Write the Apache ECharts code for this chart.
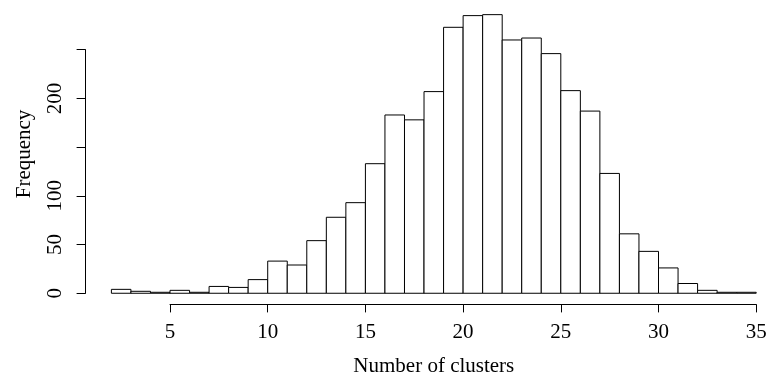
<!DOCTYPE html>
<html>
<head>
<meta charset="utf-8">
<title>Number of clusters</title>
<script src="https://cdn.jsdelivr.net/npm/echarts@6/dist/echarts.min.js"></script>
<style>
  html, body { margin: 0; padding: 0; background: #fff; }
  #chart { width: 766px; height: 378px; }
</style>
</head>
<body>
<div id="chart"></div>
<script>
// histogram bins (left edge, right edge) and counts
var binStarts = [2, 3, 4, 5, 6, 7, 8, 9, 10, 11, 12, 13, 14, 15, 16, 17, 18,
                 19, 20, 21, 22, 23, 24, 25, 26, 27, 28, 29, 30, 31, 32, 33, 34];
var binEnds = [3, 4, 5, 6, 7, 8, 9, 10, 11, 12, 13, 14, 15, 16, 17, 18, 19,
               20, 21, 22, 23, 24, 25, 26, 27, 28, 29, 30, 31, 32, 33, 34, 35];
var counts = [4, 2, 1, 3, 1, 7, 6, 14, 33, 29, 54, 78, 93, 133, 183, 178, 207,
              273, 285, 286, 260, 262, 246, 208, 187, 123, 61, 43, 26, 10, 3, 1, 1];

var xTicks = [5, 10, 15, 20, 25, 30, 35];
var yTicks = [0, 50, 100, 150, 200, 250];
// R leaves out a label when it would overlap its neighbour
var yLabelsShown = ['0', '50', '100', '', '200', ''];

var xTitle = 'Number of clusters';
var yTitle = 'Frequency';

// plot region in pixels (R style, axes sit outside of it)
var plotLeft = 85.6, plotRight = 782, plotTop = 3.5, plotBottom = 304.4;
var font = 'Liberation Serif';
var fontSize = 21;

// R pads the data range by 4% on each side
var xlo = binStarts[0], xhi = binEnds[binEnds.length - 1];
var ymax = Math.max.apply(null, counts);
var xlim = [xlo - 0.04 * (xhi - xlo), xhi + 0.04 * (xhi - xlo)];
var ylim = [-0.04 * ymax, ymax * 1.04];

function px(v) {
    return plotLeft + (v - xlim[0]) / (xlim[1] - xlim[0]) * (plotRight - plotLeft);
}
function py(v) {
    return plotBottom - (v - ylim[0]) / (ylim[1] - ylim[0]) * (plotBottom - plotTop);
}

var bars = [];
for (var i = 0; i < counts.length; i++) {
    bars.push([binStarts[i], binEnds[i], counts[i]]);
}

var xAxisLeft = px(xTicks[0]), xAxisRight = px(xTicks[xTicks.length - 1]);
var yAxisTop = py(yTicks[yTicks.length - 1]), yAxisBottom = py(yTicks[0]);

var chart = echarts.init(document.getElementById('chart'), null, {renderer: 'canvas'});

chart.setOption({
    animation: false,
    backgroundColor: '#fff',
    textStyle: { fontFamily: font },
    grid: [
        // plot region (runs a little past the right edge, as in the original)
        { left: plotLeft, width: plotRight - plotLeft, top: plotTop, height: plotBottom - plotTop,
          outerBoundsMode: 'none' },
        // bottom axis, only spanning its ticks
        { left: xAxisLeft, width: xAxisRight - xAxisLeft, top: plotBottom - 1, height: 1,
          outerBoundsMode: 'none' },
        // left axis, only spanning its ticks
        { left: plotLeft, width: 1, top: yAxisTop, height: yAxisBottom - yAxisTop,
          outerBoundsMode: 'none' }
    ],
    xAxis: [
        {
            gridIndex: 0, type: 'value', min: xlim[0], max: xlim[1],
            axisLine: { show: false }, axisTick: { show: false },
            axisLabel: { show: false }, splitLine: { show: false },
            name: xTitle, nameLocation: 'middle', nameGap: 52,
            nameTextStyle: { fontFamily: font, fontSize: fontSize, color: '#000' }
        },
        {
            gridIndex: 1, type: 'value', min: xTicks[0], max: xTicks[xTicks.length - 1],
            interval: 5, position: 'bottom',
            axisLine: { show: true, lineStyle: { color: '#000', width: 1 } },
            axisTick: { show: true, length: 8, lineStyle: { color: '#000' } },
            axisLabel: { show: true, margin: 18, fontFamily: font, fontSize: fontSize, color: '#000' },
            splitLine: { show: false }
        },
        {
            gridIndex: 2, type: 'value', show: false
        }
    ],
    yAxis: [
        {
            gridIndex: 0, type: 'value', min: ylim[0], max: ylim[1],
            axisLine: { show: false }, axisTick: { show: false },
            axisLabel: { show: false }, splitLine: { show: false },
            name: yTitle, nameLocation: 'middle', nameGap: 51, nameRotate: 90,
            nameTextStyle: { fontFamily: font, fontSize: fontSize, color: '#000' }
        },
        {
            gridIndex: 1, type: 'value', show: false
        },
        {
            gridIndex: 2, type: 'value', min: yTicks[0], max: yTicks[yTicks.length - 1],
            interval: 50, position: 'left',
            axisLine: { show: true, lineStyle: { color: '#000', width: 1 } },
            axisTick: { show: true, length: 9, lineStyle: { color: '#000' } },
            axisLabel: {
                show: true, rotate: 90, margin: 20,
                fontFamily: font, fontSize: fontSize, color: '#000',
                formatter: function (v) {
                    var k = yTicks.indexOf(v);
                    return k >= 0 ? yLabelsShown[k] : '';
                }
            },
            splitLine: { show: false }
        }
    ],
    series: [
        {
            type: 'custom',
            xAxisIndex: 0,
            yAxisIndex: 0,
            data: bars,
            encode: { x: [0, 1], y: 2 },
            clip: false,
            renderItem: function (params, api) {
                var p0 = api.coord([api.value(0), api.value(2)]);
                var p1 = api.coord([api.value(1), 0]);
                return {
                    type: 'rect',
                    shape: { x: p0[0], y: p0[1], width: p1[0] - p0[0], height: p1[1] - p0[1] },
                    style: { fill: '#fff', stroke: '#000', lineWidth: 1 }
                };
            }
        }
    ]
});
</script>
</body>
</html>
